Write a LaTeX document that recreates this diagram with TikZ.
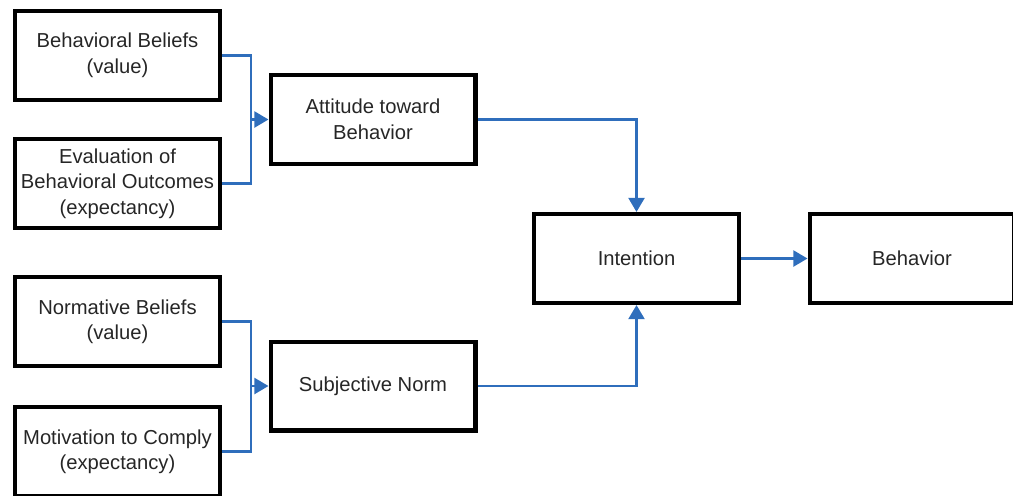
\documentclass[tikz,border=0pt]{standalone}
\usepackage{fontspec}
\setmainfont{Liberation Sans}
\usepackage{xcolor}
\usepackage{tikz}
\usetikzlibrary{arrows.meta, positioning}
\definecolor{linkblue}{RGB}{47, 110, 188}

\begin{document}
\begin{tikzpicture}[x=0.02cm, y=-0.02cm,
  box/.style={rectangle, draw=black, line width=2.3pt, minimum width=4.1cm,
              minimum height=1.78cm, align=center, inner sep=2pt,
              font=\fontsize{11.5}{14.5}\selectfont, text=black!85},
  link/.style={draw=linkblue, line width=1.5pt},
  tip/.style={-{Triangle[length=8pt, width=9pt]}},
]
  \useasboundingbox (0,0) rectangle (1013,495);
  \clip (0,0) rectangle (1013,495);

  % --- left column ---
  \node[box] (bb) at (117.5, 55.5)  {Behavioral Beliefs\\(value)};
  \node[box] (ev) at (117.5, 183.5) {Evaluation of\\Behavioral Outcomes\\(expectancy)};
  \node[box] (nb) at (117.5, 321.5) {Normative Beliefs\\(value)};
  \node[box] (mc) at (117.5, 451.5) {Motivation to Comply\\(expectancy)};

  % --- middle and right ---
  \node[box] (att) at (373, 119.5) {Attitude toward\\Behavior};
  \node[box] (sn)  at (373, 386)   {Subjective Norm};
  \node[box] (int) at (636.5, 258.5) {Intention};
  \node[box] (beh) at (912, 258.5) {Behavior};

  % junctions
  \coordinate (ja) at (251, 119.5);
  \coordinate (jn) at (251, 386);

  % --- connectors ---
  \draw[link] (bb.east) -| (ja);
  \draw[link] (ev.east) -| (ja);
  \draw[link, tip] (ja) -- (att.west);

  \draw[link] (nb.east) -| (jn);
  \draw[link] (mc.east) -| (jn);
  \draw[link, tip] (jn) -- (sn.west);

  \draw[link, tip] (att.east) -| (int.north);
  \draw[link, tip] (sn.east) -| (int.south);
  \draw[link, tip] (int.east) -- (beh.west);

\end{tikzpicture}
\end{document}
